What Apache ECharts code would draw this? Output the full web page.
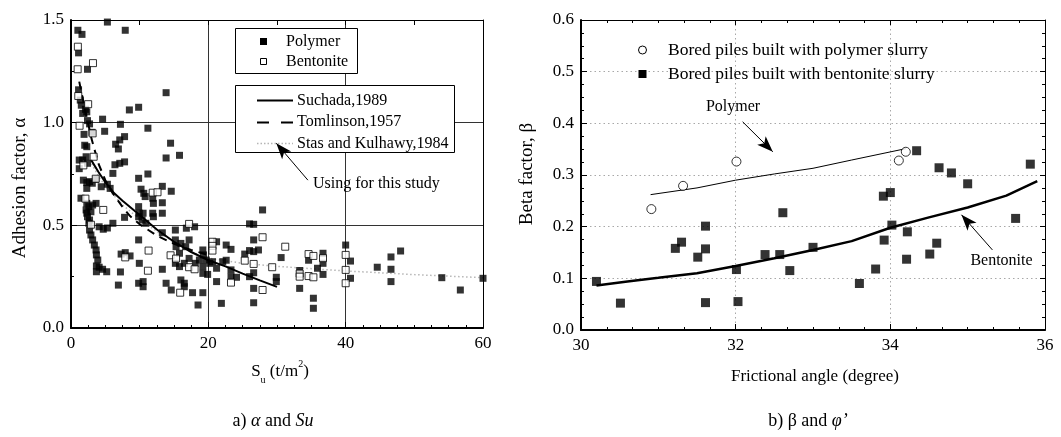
<!DOCTYPE html>
<html>
<head>
<meta charset="utf-8">
<script src="https://cdn.jsdelivr.net/npm/echarts@6/dist/echarts.min.js"></script>
<style>
  html, body { margin: 0; padding: 0; background: #fff; }
  #chart { width: 1061px; height: 437px; }
</style>
</head>
<body>
<div id="chart"></div>
<script>
const FONT = "'Liberation Serif', 'Times New Roman', serif";

// ---------- (a) adhesion factor α versus undrained shear strength Su ----------
const suRange = [0, 60];
const suStep = 20;
const alphaRange = [0, 1.5];
const alphaStep = 0.5;

// piles built with polymer slurry  [Su (t/m2), α]
const alphaPolymer = [
  [1.0,1.45],[1.6,1.43],[5.3,1.49],[7.9,1.45],[1.1,1.34],[2.4,1.26],[1.1,1.16],[1.35,1.11],
  [1.5,1.085],[2.1,1.065],[1.7,1.045],[2.3,1.053],[2.4,1.01],[2.7,0.994],[3.05,0.953],[1.9,0.943],
  [4.6,1.017],[4.9,0.958],[7.2,0.992],[8.5,1.062],[9.85,1.075],[11.2,0.973],[13.85,1.146],
  [7.8,0.932],[7.1,0.916],[6.5,0.895],[6.9,0.872],[14.5,0.9],[15.8,0.841],[13.85,0.828],
  [2.0,0.89],[2.3,0.883],[2.2,0.834],[1.7,0.818],[1.2,0.818],[2.4,0.802],[1.2,0.776],
  [7.8,0.809],[7.1,0.802],[6.4,0.795],[6.1,0.753],[11.2,0.75],[9.85,0.729],
  [1.8,0.72],[2.3,0.708],[2.7,0.713],[3.1,0.705],[3.6,0.724],[4.4,0.688],[5.3,0.70],[5.7,0.68],[2.3,0.68],
  [10.2,0.676],[10.6,0.656],[10.8,0.64],[11.9,0.632],[13.3,0.69],[14.6,0.666],
  [1.45,0.632],[2.3,0.607],[2.6,0.591],[2.2,0.575],[2.9,0.566],[3.15,0.599],[3.65,0.607],
  [2.3,0.559],[2.4,0.542],[2.7,0.526],[2.6,0.51],[4.1,0.493],[4.7,0.481],[5.3,0.487],[6.1,0.51],
  [2.7,0.477],[2.9,0.453],[3.15,0.429],[3.4,0.404],[3.65,0.38],[3.7,0.356],[3.9,0.331],[3.7,0.302],
  [4.1,0.296],[3.7,0.274],[4.6,0.286],[5.2,0.274],[7.3,0.36],[7.9,0.367],[8.6,0.351],[7.2,0.273],
  [6.9,0.209],[7.8,0.539],[9.85,0.591],[9.95,0.559],[9.85,0.542],[10.35,0.526],[10.9,0.51],[10.5,0.559],
  [12.0,0.607],[13.3,0.61],[11.9,0.559],[13.3,0.559],[12.0,0.542],[9.85,0.429],[9.95,0.315],
  [9.85,0.218],[10.5,0.226],[10.5,0.201],[13.3,0.286],[13.3,0.464],[13.85,0.218],[14.6,0.185],
  [15.2,0.477],[15.2,0.429],[15.3,0.396],[16.0,0.412],[15.8,0.364],[16.7,0.396],[17.2,0.429],
  [16.8,0.486],[18.0,0.493],[15.2,0.315],[15.8,0.299],[16.5,0.315],[17.2,0.339],[18.1,0.315],
  [16.0,0.234],[16.5,0.218],[17.7,0.172],[18.5,0.112],[16.5,0.201],[19.2,0.172],
  [26.0,0.507],[26.6,0.505],[27.9,0.575],[26.6,0.429],[21.2,0.42],[22.6,0.404],[23.3,0.383],
  [19.2,0.38],[19.3,0.356],[18.7,0.331],[19.7,0.331],[19.2,0.299],[20.2,0.315],[20.6,0.323],
  [22.1,0.323],[22.6,0.33],[19.2,0.266],[19.9,0.261],[21.2,0.291],[23.3,0.283],[23.3,0.25],
  [24.1,0.247],[21.2,0.226],[25.3,0.36],[26.0,0.377],[26.6,0.372],[27.3,0.38],[26.6,0.269],
  [26.0,0.25],[26.6,0.193],[26.6,0.123],[21.9,0.12],
  [30.6,0.343],[29.9,0.247],[29.9,0.226],[33.3,0.28],[33.3,0.193],[34.6,0.33],
  [35.3,0.145],[35.3,0.096],[35.9,0.291],[36.7,0.364],[36.7,0.315],[36.7,0.261],
  [40.0,0.404],[40.7,0.326],[40.7,0.242],[44.6,0.296],[46.6,0.346],[46.6,0.286],[46.6,0.226],
  [48.0,0.375],[54.0,0.245],[56.7,0.185],[60.0,0.242]
];

// piles built with bentonite slurry  [Su (t/m2), α]
const alphaBentonite = [
  [1.0,1.37],[0.97,1.26],[3.2,1.29],[1.06,1.13],[2.5,1.09],[1.25,0.985],[3.15,0.948],
  [1.8,0.792],[3.3,0.834],[3.6,0.727],[11.9,0.659],[12.6,0.661],[2.1,0.63],[4.7,0.575],
  [2.9,0.503],[7.9,0.344],[11.3,0.377],[11.2,0.279],[14.5,0.354],[15.3,0.338],[17.2,0.507],
  [17.2,0.296],[18.0,0.286],[15.9,0.172],[20.6,0.42],[20.6,0.4],[20.6,0.377],[27.9,0.442],
  [25.3,0.328],[26.6,0.312],[23.3,0.221],[27.9,0.185],[29.3,0.296],[31.2,0.396],
  [33.3,0.265],[33.3,0.25],[34.6,0.36],[35.3,0.351],[34.6,0.253],[35.3,0.247],[36.7,0.34],
  [40.0,0.356],[40.0,0.283],[40.0,0.218]
];

// published α–Su relations
const suchada1989 = [
  [2.9,0.82],[4,0.76],[5,0.71],[6.3,0.656],[7.5,0.62],[10,0.55],[12.5,0.48],[15,0.42],
  [17.5,0.37],[20,0.33],[22.5,0.30],[25,0.265],[27.5,0.232],[30,0.2]
];
const tomlinson1957 = [
  [1.2,1.2],[2,1.07],[3,0.92],[4,0.8],[5,0.72],[6,0.66],[7.5,0.59],[8.6,0.545],[10,0.505],
  [12.5,0.45],[15,0.41],[17.5,0.38],[20,0.355]
];
const stasKulhawy1984 = [
  [3,0.8],[4,0.74],[5,0.69],[7.5,0.6],[10,0.53],[12.5,0.47],[15,0.42],[17.5,0.37],[20,0.34],
  [25,0.315],[30,0.3],[40,0.278],[50,0.26],[60,0.245]
];
const studyArrow = [[34.5, 0.72], [29.9, 0.9]];

// ---------- (b) beta factor β versus frictional angle φ' ----------
const phiRange = [30, 36];
const phiStep = 2;
const betaRange = [0, 0.6];
const betaStep = 0.1;

const betaPolymer = [[30.91,0.234],[31.32,0.279],[32.01,0.326],[34.11,0.328],[34.2,0.345]];
const betaBentonite = [
  [30.2,0.094],[30.51,0.052],[31.22,0.158],[31.3,0.17],[31.51,0.141],[31.61,0.201],[31.61,0.157],
  [31.61,0.053],[32.01,0.117],[32.03,0.055],[32.38,0.146],[32.57,0.146],[32.61,0.227],[32.7,0.115],
  [33.0,0.16],[33.6,0.09],[33.81,0.118],[33.92,0.174],[33.91,0.259],[34.0,0.266],[34.02,0.203],
  [34.22,0.19],[34.21,0.137],[34.51,0.147],[34.6,0.168],[35.62,0.216],[34.34,0.347],[34.63,0.314],
  [34.79,0.304],[35.0,0.283],[35.81,0.321]
];
const polymerTrend = [[30.9,0.262],[31.5,0.275],[32,0.29],[32.5,0.302],[33,0.313],[33.5,0.329],[34.2,0.351]];
const bentoniteTrend = [
  [30.2,0.086],[30.6,0.094],[31,0.101],[31.5,0.11],[32,0.124],[32.5,0.139],[33,0.155],[33.5,0.172],
  [34,0.198],[34.5,0.218],[35,0.237],[35.5,0.26],[35.9,0.288]
];
const polymerArrow = [[32.09, 0.403], [32.48, 0.345]];
const bentoniteArrow = [[35.32, 0.155], [34.92, 0.223]];

// ---------- styling helpers ----------
const tickText = { color: '#000', fontFamily: FONT, fontSize: 17 };
const black = '#000';

function mainAxis(gridIndex, range, step, minorSplit, position, fmt, split) {
  return {
    gridIndex, type: 'value', position, min: range[0], max: range[1], interval: step,
    axisLine: { show: true, onZero: false, lineStyle: { color: black, width: 2 } },
    axisTick: { show: true, inside: true, length: 6, lineStyle: { color: black, width: 1 } },
    minorTick: { show: true, splitNumber: minorSplit, length: 3, lineStyle: { color: black, width: 1 } },
    axisLabel: Object.assign({ margin: 7, formatter: fmt }, tickText),
    splitLine: split,
    minorSplitLine: { show: false }
  };
}
function mirrorAxis(gridIndex, range, step, minorSplit, position, showTicks) {
  return {
    gridIndex, type: 'value', position, min: range[0], max: range[1], interval: step,
    axisLine: { show: true, onZero: false, lineStyle: { color: black, width: 1 } },
    axisTick: { show: showTicks, inside: true, length: 5, lineStyle: { color: black, width: 1 } },
    minorTick: { show: showTicks && minorSplit > 0, splitNumber: minorSplit || 1, length: 3, lineStyle: { color: black, width: 1 } },
    axisLabel: { show: false },
    splitLine: { show: false }
  };
}
const solidGrid = { show: true, showMinLine: false, showMaxLine: false, lineStyle: { color: '#333', width: 1 } };
const dottedGrid = { show: true, showMinLine: false, showMaxLine: false, lineStyle: { color: '#a8a8a8', width: 1, type: [1.5, 3] } };

const arrowLine = (pair) => ({
  silent: true, z: 120, symbol: ['none', 'arrow'], symbolSize: [9, 16], label: { show: false },
  lineStyle: { color: black, width: 1, type: 'solid' }, emphasis: { disabled: true },
  data: [[{ coord: pair[0] }, { coord: pair[1] }]]
});

const txt = (text, x, y, size, extra, rotation) => ({
  type: 'text', x, y, z: 100, rotation: rotation || 0,
  style: Object.assign({ text, fill: black, font: size + 'px ' + FONT, align: 'left', verticalAlign: 'middle' }, extra || {})
});

const chart = echarts.init(document.getElementById('chart'), null, { renderer: 'canvas' });

chart.setOption({
  animation: false,
  backgroundColor: '#fff',
  grid: [
    { left: 71, top: 20, width: 412, height: 308, containLabel: false },
    { left: 581, top: 20, width: 464, height: 310, containLabel: false }
  ],
  xAxis: [
    mainAxis(0, suRange, suStep, 8, 'bottom', v => String(v), solidGrid),
    mirrorAxis(0, suRange, suStep / 2, 0, 'top', true),
    mainAxis(1, phiRange, phiStep, 6, 'bottom', v => String(v), dottedGrid),
    mirrorAxis(1, phiRange, phiStep, 6, 'top', true)
  ],
  yAxis: [
    mainAxis(0, alphaRange, alphaStep, 2, 'left', v => v.toFixed(1), solidGrid),
    mirrorAxis(0, alphaRange, alphaStep, 0, 'right', false),
    mainAxis(1, betaRange, betaStep, 4, 'left', v => v.toFixed(1), dottedGrid),
    mirrorAxis(1, betaRange, betaStep, 4, 'right', true)
  ],
  series: [
    { name: 'Stas and Kulhawy,1984', type: 'line', xAxisIndex: 0, yAxisIndex: 0, data: stasKulhawy1984,
      symbol: 'none', z: 2, lineStyle: { color: '#b5b5b5', width: 1.5, type: [1.5, 2.5] },
      markLine: arrowLine(studyArrow) },
    { name: 'Tomlinson,1957', type: 'line', xAxisIndex: 0, yAxisIndex: 0, data: tomlinson1957,
      symbol: 'none', z: 2, lineStyle: { color: black, width: 2, type: [8, 6] } },
    { name: 'Suchada,1989', type: 'line', xAxisIndex: 0, yAxisIndex: 0, data: suchada1989,
      symbol: 'none', z: 2, lineStyle: { color: black, width: 2 } },
    { name: 'Polymer', type: 'scatter', xAxisIndex: 0, yAxisIndex: 0, data: alphaPolymer,
      symbol: 'rect', symbolSize: 7, z: 3, itemStyle: { color: black } },
    { name: 'Bentonite', type: 'scatter', xAxisIndex: 0, yAxisIndex: 0, data: alphaBentonite,
      symbol: 'rect', symbolSize: 7, z: 4, itemStyle: { color: '#fff', borderColor: black, borderWidth: 1 } },

    { name: 'Polymer trend', type: 'line', xAxisIndex: 2, yAxisIndex: 2, data: polymerTrend,
      symbol: 'none', z: 2, lineStyle: { color: black, width: 1 }, markLine: arrowLine(polymerArrow) },
    { name: 'Bentonite trend', type: 'line', xAxisIndex: 2, yAxisIndex: 2, data: bentoniteTrend,
      symbol: 'none', z: 2, lineStyle: { color: black, width: 2.5 }, markLine: arrowLine(bentoniteArrow) },
    { name: 'Bored piles built with polymer slurry', type: 'scatter', xAxisIndex: 2, yAxisIndex: 2, data: betaPolymer,
      symbol: 'circle', symbolSize: 9, z: 3, itemStyle: { color: '#fff', borderColor: black, borderWidth: 1 } },
    { name: 'Bored piles built with bentonite slurry', type: 'scatter', xAxisIndex: 2, yAxisIndex: 2, data: betaBentonite,
      symbol: 'rect', symbolSize: 9, z: 3, itemStyle: { color: black } }
  ],
  graphic: [
    // legend of the two pile groups in (a)
    { type: 'rect', z: 90, shape: { x: 235.5, y: 28.5, width: 122, height: 45 },
      style: { fill: '#fff', stroke: black, lineWidth: 1 } },
    { type: 'rect', z: 95, shape: { x: 260, y: 38, width: 7, height: 7 }, style: { fill: black } },
    { type: 'rect', z: 95, shape: { x: 260.5, y: 58.5, width: 6, height: 6 }, style: { fill: '#fff', stroke: black, lineWidth: 1 } },
    txt('Polymer', 286, 41.5, 16),
    txt('Bentonite', 286, 62, 16),

    // legend of the published relations in (a)
    { type: 'rect', z: 90, shape: { x: 235.5, y: 85.5, width: 219, height: 67 },
      style: { fill: '#fff', stroke: black, lineWidth: 1 } },
    { type: 'line', z: 95, shape: { x1: 257, y1: 100.5, x2: 293, y2: 100.5 }, style: { stroke: black, lineWidth: 2 } },
    { type: 'line', z: 95, shape: { x1: 257, y1: 122.5, x2: 293, y2: 122.5 }, style: { stroke: black, lineWidth: 2, lineDash: [12, 12] } },
    { type: 'line', z: 95, shape: { x1: 257, y1: 143.5, x2: 293, y2: 143.5 }, style: { stroke: '#b5b5b5', lineWidth: 1.5, lineDash: [1.5, 2] } },
    txt('Suchada,1989', 297, 100.5, 16),
    txt('Tomlinson,1957', 297, 122, 16),
    txt('Stas and Kulhawy,1984', 297, 143.5, 16),
    txt('Using for this study', 313, 184, 16),

    // legend of (b)
    { type: 'circle', z: 95, shape: { cx: 642.5, cy: 50, r: 4 }, style: { fill: '#fff', stroke: black, lineWidth: 1 } },
    { type: 'rect', z: 95, shape: { x: 638.5, y: 70, width: 8, height: 8 }, style: { fill: black } },
    txt('Bored piles built with polymer slurry', 668, 50.5, 17.5),
    txt('Bored piles built with bentonite slurry', 668, 74, 17.5),
    txt('Polymer', 733, 107, 16, { align: 'center' }),
    txt('Bentonite', 1001.5, 261, 16, { align: 'center' }),

    // axis titles
    txt('Adhesion factor, α', 20, 188, 19, { align: 'center' }, Math.PI / 2),
    txt('Beta factor, β', 527, 174, 19, { align: 'center' }, Math.PI / 2),
    {
      type: 'text', x: 280, y: 372, z: 100,
      style: {
        text: '{n|S}{sub|u}{n| (t/m}{sup|2}{n|)}', align: 'center', verticalAlign: 'middle',
        font: '17px ' + FONT, fill: black,
        rich: {
          n: { fontFamily: FONT, fontSize: 17, lineHeight: 26, fill: black },
          sub: { fontFamily: FONT, fontSize: 10, lineHeight: 10, verticalAlign: 'bottom', fill: black },
          sup: { fontFamily: FONT, fontSize: 10, lineHeight: 12, verticalAlign: 'top', fill: black }
        }
      }
    },
    txt('Frictional angle (degree)', 815, 377, 17, { align: 'center' }),

    // panel captions
    {
      type: 'text', x: 273, y: 421, z: 100,
      style: {
        text: '{n|a) }{i|α}{n| and }{i|Su}', align: 'center', verticalAlign: 'middle', fill: black,
        font: '18px ' + FONT,
        rich: {
          n: { fontFamily: FONT, fontSize: 18, fill: black },
          i: { fontFamily: FONT, fontSize: 18, fontStyle: 'italic', fill: black }
        }
      }
    },
    {
      type: 'text', x: 808, y: 421, z: 100,
      style: {
        text: '{n|b) β and }{i|φ’}', align: 'center', verticalAlign: 'middle', fill: black,
        font: '18px ' + FONT,
        rich: {
          n: { fontFamily: FONT, fontSize: 18, fill: black },
          i: { fontFamily: FONT, fontSize: 18, fontStyle: 'italic', fill: black }
        }
      }
    }
  ]
});
</script>
</body>
</html>
